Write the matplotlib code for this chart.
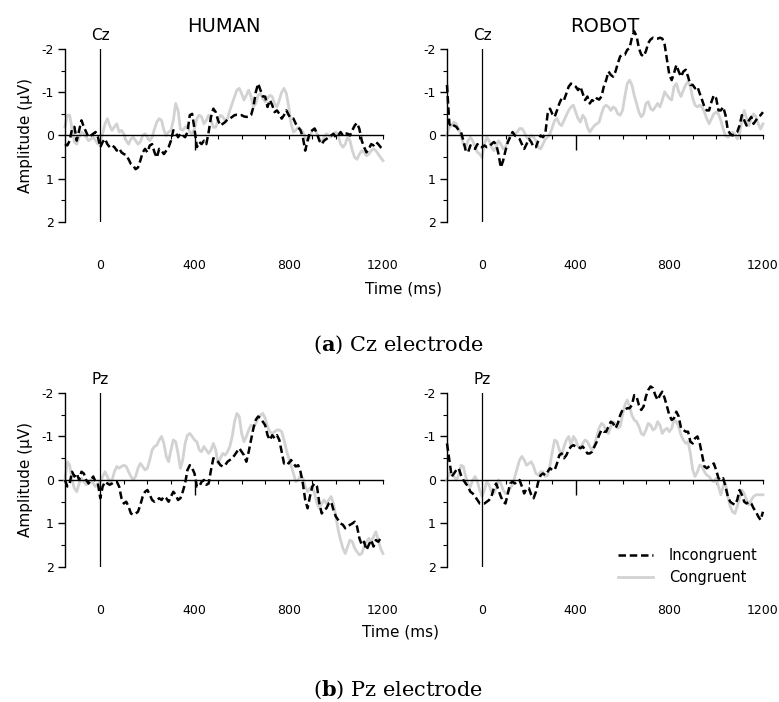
import numpy as np
import matplotlib.pyplot as plt
import matplotlib.transforms as mtransforms

plt.rcParams['font.family'] = 'DejaVu Sans'
plt.rcParams['axes.unicode_minus'] = False
plt.rcParams['mathtext.fontset'] = 'dejavuserif'

# time axis (ms), one value every 10 ms
time = np.arange(-150, 1201, 10)

# Cz electrode, HUMAN
hum_cz_inc = [0.2, 0.23, 0.12, -0.15, -0.2, 0.12, -0.12, -0.35, -0.2, -0.08,
              0.04, 0, -0.04, -0.08, 0.04, 0.27, 0.15, 0.08, 0.2, 0.27,
              0.23, 0.27, 0.35, 0.3, 0.39, 0.43, 0.45, 0.55, 0.66, 0.7,
              0.78, 0.74, 0.58, 0.39, 0.31, 0.39, 0.23, 0.2, 0.39, 0.51,
              0.31, 0.35, 0.43, 0.35, 0.27, 0.12, -0.12, -0.08, 0.04, -0.04,
              0, 0.04, -0.08, -0.47, -0.5, -0.15, 0.27, 0.15, 0.2, 0.12,
              0.2, -0.08, -0.43, -0.62, -0.54, -0.35, -0.23, -0.27, -0.31, -0.37,
              -0.39, -0.43, -0.47, -0.48, -0.47, -0.47, -0.44, -0.43, -0.43, -0.47,
              -0.66, -1.0, -1.2, -1.05, -0.9, -0.9, -0.66, -0.82, -0.7, -0.54,
              -0.58, -0.5, -0.39, -0.47, -0.58, -0.47, -0.39, -0.39, -0.27, -0.19,
              -0.12, 0.04, 0.35, 0.12, -0.08, -0.12, -0.16, -0.04, 0.12, 0.2,
              0.12, 0.08, 0.04, 0, -0.04, 0.04, 0, -0.08, 0, -0.05,
              -0.04, 0, -0.12, -0.23, -0.29, -0.15, 0.12, 0.27, 0.39, 0.31,
              0.2, 0.23, 0.15, 0.2, 0.27, 0.31]
hum_cz_con = [-0.2, -0.47, -0.47, -0.15, 0.15, 0.2, 0.04, -0.08, -0.04, 0.04,
              0.12, 0.08, 0.04, 0.12, 0.2, 0.15, -0.04, -0.27, -0.39, -0.23,
              -0.12, -0.2, -0.27, -0.08, -0.12, -0.04, 0.12, 0.2, 0.08, 0.04,
              0.12, 0.2, 0.15, 0, -0.04, 0.04, 0.12, 0.04, -0.15, -0.31,
              -0.39, -0.35, -0.12, 0, -0.08, -0.12, -0.35, -0.74, -0.58, -0.15,
              -0.12, -0.19, -0.23, -0.08, -0.04, -0.16, -0.39, -0.47, -0.43, -0.27,
              -0.35, -0.47, -0.35, -0.19, -0.19, -0.35, -0.47, -0.43, -0.35, -0.39,
              -0.58, -0.74, -0.9, -1.05, -1.09, -0.97, -0.82, -0.93, -1.05, -0.9,
              -0.66, -0.74, -0.93, -0.97, -0.86, -0.78, -0.86, -0.93, -0.9, -0.74,
              -0.66, -0.82, -1.0, -1.09, -0.97, -0.66, -0.27, -0.08, -0.12, -0.19,
              -0.15, -0.08, 0.04, 0.12, 0.04, -0.12, -0.16, -0.04, 0.08, 0.15,
              0.04, -0.04, 0, 0.04, -0.04, -0.08, 0, 0.2, 0.27, 0.2,
              0.04, 0.12, 0.35, 0.51, 0.55, 0.43, 0.35, 0.39, 0.47, 0.43,
              0.35, 0.31, 0.35, 0.43, 0.51, 0.58]

# Cz electrode, ROBOT
rob_cz_inc = [-1.17, -0.27, -0.19, -0.23, -0.2, -0.12, -0.08, 0.12, 0.35, 0.39,
              0.23, 0.27, 0.31, 0.2, 0.27, 0.27, 0.23, 0.27, 0.26, 0.2,
              0.15, 0.2, 0.43, 0.74, 0.58, 0.35, 0.15, 0.04, -0.08, 0,
              0.04, 0.08, 0.2, 0.31, 0.2, 0.08, 0.15, 0.27, 0.27, 0.12,
              0, 0.04, -0.04, -0.5, -0.62, -0.5, -0.43, -0.58, -0.74, -0.86,
              -0.82, -0.97, -1.13, -1.2, -1.17, -1.13, -1.05, -1.13, -0.97, -0.82,
              -0.9, -0.74, -0.82, -0.78, -0.86, -0.83, -0.9, -1.13, -1.28, -1.48,
              -1.4, -1.36, -1.48, -1.67, -1.83, -1.87, -1.87, -1.98, -2.02, -2.26,
              -2.41, -2.3, -2.02, -1.87, -1.83, -1.95, -2.14, -2.22, -2.26, -2.24,
              -2.24, -2.26, -2.24, -2.1, -1.75, -1.4, -1.28, -1.44, -1.63, -1.48,
              -1.36, -1.48, -1.52, -1.36, -1.17, -1.17, -1.09, -1.13, -0.97, -0.82,
              -0.66, -0.58, -0.58, -0.78, -0.93, -0.86, -0.58, -0.58, -0.66, -0.47,
              -0.12, -0.04, 0, -0.04, -0.08, -0.23, -0.47, -0.35, -0.23, -0.35,
              -0.43, -0.27, -0.35, -0.43, -0.47, -0.54]
rob_cz_con = [0, -0.19, -0.23, -0.31, -0.27, -0.15, 0, 0.2, 0.27, 0.12,
              0.04, 0.12, 0.27, 0.39, 0.43, 0.51, 0.2, 0.04, 0.12, 0.27,
              0.35, 0.27, 0.12, 0.2, 0.31, 0.27, 0.12, 0, -0.04, -0.04,
              -0.08, -0.16, -0.16, -0.08, 0.04, 0.08, 0, 0.04, 0.12, 0.27,
              0.31, 0.2, 0.08, 0.04, -0.04, -0.19, -0.35, -0.39, -0.27, -0.23,
              -0.35, -0.47, -0.58, -0.66, -0.7, -0.54, -0.39, -0.31, -0.47, -0.39,
              -0.19, -0.08, -0.16, -0.23, -0.27, -0.31, -0.5, -0.66, -0.7, -0.66,
              -0.58, -0.66, -0.62, -0.5, -0.47, -0.58, -0.9, -1.2, -1.28, -1.17,
              -0.93, -0.74, -0.54, -0.43, -0.5, -0.74, -0.78, -0.62, -0.58, -0.66,
              -0.74, -0.66, -0.82, -1.01, -0.93, -0.86, -0.82, -1.13, -1.2, -1.01,
              -0.9, -1.05, -1.17, -1.25, -1.13, -0.86, -0.7, -0.66, -0.7, -0.66,
              -0.54, -0.39, -0.27, -0.39, -0.5, -0.54, -0.5, -0.35, -0.15, 0,
              0.04, 0, -0.08, -0.04, 0.08, -0.04, -0.35, -0.58, -0.39, -0.23,
              -0.39, -0.5, -0.43, -0.27, -0.15, -0.27]

# Pz electrode, HUMAN
hum_pz_inc = [0, 0.15, 0.08, -0.19, -0.08, -0.15, 0, -0.19, -0.15, 0,
              0.08, 0, -0.08, 0.04, 0.08, 0.42, 0.15, 0.04, 0.08, 0.11,
              0.08, 0.04, 0.04, 0.15, 0.42, 0.54, 0.5, 0.61, 0.77, 0.8,
              0.77, 0.73, 0.57, 0.38, 0.27, 0.23, 0.34, 0.46, 0.5, 0.46,
              0.42, 0.46, 0.38, 0.42, 0.5, 0.38, 0.27, 0.34, 0.46, 0.42,
              0.27, 0.08, -0.23, -0.34, -0.27, -0.15, 0.15, 0.15, 0.04, 0,
              0.11, 0.08, -0.23, -0.5, -0.46, -0.42, -0.34, -0.31, -0.34, -0.42,
              -0.46, -0.5, -0.57, -0.65, -0.73, -0.65, -0.57, -0.42, -0.65, -0.92,
              -1.19, -1.38, -1.46, -1.42, -1.34, -1.26, -1.03, -0.92, -1.03, -0.96,
              -1.03, -0.92, -0.65, -0.38, -0.42, -0.38, -0.46, -0.38, -0.31, -0.34,
              -0.19, 0.08, 0.46, 0.65, 0.38, 0.15, 0.08, 0.15, 0.54, 0.77,
              0.69, 0.65, 0.54, 0.5, 0.69, 0.84, 0.92, 1.0, 1.03, 1.11,
              1.07, 1.03, 1.0, 0.96, 1.07, 1.34, 1.49, 1.42, 1.61, 1.49,
              1.38, 1.53, 1.38, 1.42, 1.34, 1.3]
hum_pz_con = [0, -0.42, -0.34, 0, 0.19, 0.27, 0.08, -0.04, 0.04, 0.11,
              0.08, 0, 0.08, 0.15, 0.08, 0.04, -0.08, -0.19, -0.08, 0.04,
              0, -0.19, -0.31, -0.27, -0.31, -0.34, -0.31, -0.19, -0.08, 0,
              -0.08, -0.27, -0.38, -0.31, -0.23, -0.27, -0.46, -0.69, -0.77, -0.8,
              -0.92, -1.0, -0.84, -0.54, -0.42, -0.69, -0.92, -0.88, -0.61, -0.27,
              -0.46, -0.84, -1.03, -1.07, -1.0, -0.92, -0.88, -0.69, -0.65, -0.77,
              -0.69, -0.61, -0.69, -0.84, -0.69, -0.38, -0.5, -0.61, -0.57, -0.65,
              -0.77, -1.0, -1.34, -1.53, -1.46, -1.07, -0.88, -1.0, -1.15, -1.26,
              -1.23, -1.3, -1.42, -1.49, -1.53, -1.42, -1.23, -1.11, -1.07, -1.11,
              -1.15, -1.15, -1.11, -0.92, -0.69, -0.5, -0.34, -0.15, 0.04, 0,
              -0.11, -0.04, 0.15, 0.27, 0.19, 0.15, 0.31, 0.54, 0.65, 0.54,
              0.46, 0.54, 0.46, 0.38, 0.54, 0.84, 1.15, 1.38, 1.57, 1.69,
              1.53, 1.38, 1.42, 1.57, 1.65, 1.72, 1.69, 1.53, 1.42, 1.34,
              1.42, 1.3, 1.19, 1.38, 1.57, 1.69]

# Pz electrode, ROBOT
rob_pz_inc = [-0.84, -0.46, -0.08, -0.15, -0.23, -0.27, -0.11, 0, 0.08, 0.15,
              0.27, 0.31, 0.38, 0.46, 0.54, 0.54, 0.54, 0.5, 0.46, 0.38,
              0.19, 0.08, 0.23, 0.38, 0.5, 0.54, 0.31, 0.08, 0.04, 0.08,
              0.04, 0, 0.15, 0.31, 0.19, 0.19, 0.34, 0.42, 0.27, 0.04,
              -0.11, -0.15, -0.11, -0.19, -0.27, -0.23, -0.23, -0.38, -0.57, -0.61,
              -0.5, -0.57, -0.69, -0.77, -0.8, -0.77, -0.77, -0.73, -0.77, -0.69,
              -0.61, -0.61, -0.65, -0.77, -0.88, -1.03, -1.15, -1.11, -1.11, -1.23,
              -1.34, -1.3, -1.19, -1.3, -1.49, -1.61, -1.61, -1.65, -1.65, -1.72,
              -1.95, -1.92, -1.72, -1.61, -1.69, -1.92, -2.07, -2.15, -2.11, -1.95,
              -1.84, -1.95, -2.03, -1.88, -1.69, -1.49, -1.38, -1.42, -1.57, -1.46,
              -1.19, -1.15, -1.11, -1.11, -0.88, -0.84, -0.96, -1.0, -0.84, -0.57,
              -0.31, -0.27, -0.31, -0.34, -0.38, -0.23, -0.04, 0, -0.04, 0.15,
              0.38, 0.5, 0.54, 0.57, 0.46, 0.23, 0.34, 0.5, 0.54, 0.5,
              0.54, 0.65, 0.73, 0.84, 0.92, 0.73]
rob_pz_con = [0, -0.15, -0.11, -0.08, 0, -0.11, -0.34, -0.31, -0.08, 0.11,
              0.15, 0, -0.08, 0.04, 0.23, 0.38, 0.23, 0.04, 0.11, 0.27,
              0.31, 0.19, 0, 0.08, 0.23, 0.31, 0.27, 0.19, 0.11, -0.08,
              -0.27, -0.46, -0.54, -0.46, -0.34, -0.38, -0.42, -0.31, -0.15, -0.11,
              -0.19, -0.19, -0.08, -0.11, -0.34, -0.65, -0.92, -0.88, -0.69, -0.57,
              -0.77, -0.92, -1.0, -0.8, -1.0, -0.92, -0.77, -0.73, -0.84, -0.92,
              -0.88, -0.77, -0.69, -0.8, -1.0, -1.19, -1.3, -1.26, -1.11, -1.07,
              -1.23, -1.34, -1.3, -1.19, -1.23, -1.49, -1.72, -1.84, -1.69, -1.49,
              -1.38, -1.34, -1.23, -1.07, -1.03, -1.15, -1.3, -1.26, -1.15, -1.19,
              -1.34, -1.26, -1.07, -1.15, -1.19, -1.11, -1.19, -1.38, -1.34, -1.23,
              -1.03, -0.92, -0.84, -0.88, -0.61, -0.23, -0.08, -0.19, -0.34, -0.31,
              -0.19, -0.11, -0.08, 0, 0.04, -0.04, 0.15, 0.34, 0.15, 0.08,
              0.38, 0.61, 0.73, 0.77, 0.61, 0.42, 0.23, 0.31, 0.46, 0.57,
              0.46, 0.38, 0.34, 0.34, 0.34, 0.34]

xtick_labels = [0, 400, 800, 1200]


def draw_panel(ax, inc, con, electrode, title=None, ylabel=False):
    ax.plot(time, con, color='#d2d2d2', lw=2, label='Congruent', clip_on=False)
    ax.plot(time, inc, color='black', lw=1.8, linestyle=(0, (3.0, 1.5)),
            label='Incongruent', clip_on=False)
    ax.axvline(0, color='black', lw=0.9)
    ax.set_xlim(-150, 1200)
    ax.set_ylim(2, -2)

    ax.spines['top'].set_visible(False)
    ax.spines['right'].set_visible(False)
    ax.spines['bottom'].set_position(('data', 0))
    ax.spines['bottom'].set_linewidth(1.0)
    ax.spines['left'].set_linewidth(1.0)

    ax.set_xticks([400])
    ax.set_xticks(np.arange(0, 1201, 100), minor=True)
    ax.tick_params(axis='x', which='major', direction='out', length=11, width=1, labelbottom=False)
    ax.tick_params(axis='x', which='minor', direction='out', length=3, width=0.8)
    ax.set_yticks([-2, -1, 0, 1, 2])
    ax.set_yticks([-1.5, -0.5, 0.5, 1.5], minor=True)
    ax.tick_params(axis='y', which='major', length=5, width=1, labelsize=9, pad=3)
    ax.tick_params(axis='y', which='minor', length=3, width=0.8)

    trans = mtransforms.blended_transform_factory(ax.transData, ax.transAxes)
    for v in xtick_labels:
        ax.text(v, -0.25, str(v), transform=trans, ha='center', va='center', fontsize=9)
    ax.text(0, 1.05, electrode, transform=trans, ha='center', va='baseline', fontsize=11)

    if title:
        ax.set_title(title, fontsize=14, pad=12)
    if ylabel:
        ax.set_ylabel('Amplitude (µV)', fontsize=11, labelpad=6)


fig = plt.figure(figsize=(7.79, 7.02), dpi=100)

ax1 = fig.add_axes([0.0834, 0.6838, 0.4082, 0.2464])
ax2 = fig.add_axes([0.5738, 0.6838, 0.4056, 0.2464])
ax3 = fig.add_axes([0.0834, 0.1923, 0.4082, 0.2479])
ax4 = fig.add_axes([0.5738, 0.1923, 0.4056, 0.2479])

draw_panel(ax1, hum_cz_inc, hum_cz_con, 'Cz', title='HUMAN', ylabel=True)
draw_panel(ax2, rob_cz_inc, rob_cz_con, 'Cz', title='ROBOT')
draw_panel(ax3, hum_pz_inc, hum_pz_con, 'Pz', ylabel=True)
draw_panel(ax4, rob_pz_inc, rob_pz_con, 'Pz')

handles, labels = ax4.get_legend_handles_labels()
ax4.legend(handles[::-1], labels[::-1], loc='lower right', bbox_to_anchor=(1.025, -0.18),
           frameon=False, fontsize=10.5, handlelength=2.4, handletextpad=1.1)

fig.text(404 / 779, 1 - 289 / 702, 'Time (ms)', ha='center', va='center', fontsize=11)
fig.text(400 / 779, 1 - 632 / 702, 'Time (ms)', ha='center', va='center', fontsize=11)

fig.text(398 / 779, 1 - 345 / 702, r'($\mathbf{a}$) Cz electrode', ha='center', va='center',
         fontsize=15, family='DejaVu Serif')
fig.text(398 / 779, 1 - 690 / 702, r'($\mathbf{b}$) Pz electrode', ha='center', va='center',
         fontsize=15, family='DejaVu Serif')

fig.savefig('out.png', dpi=100)
